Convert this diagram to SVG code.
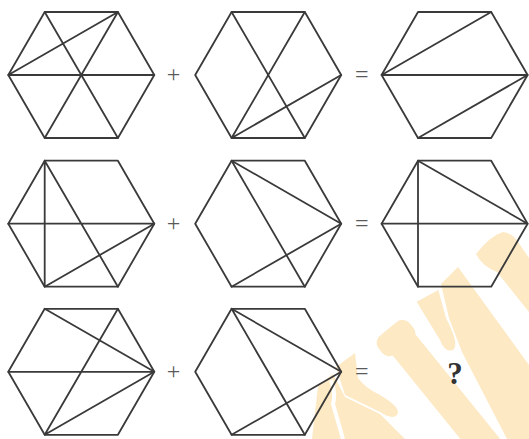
<svg xmlns="http://www.w3.org/2000/svg" width="529" height="439" viewBox="0 0 529 439">
<style>
.hx{fill:none;stroke:#3a3a3a;stroke-width:1.8;stroke-linejoin:round;stroke-linecap:round}
.sg{font-family:"Liberation Serif","DejaVu Serif",serif;font-size:24px;fill:#5a5a5a;text-anchor:middle}
.q{font-family:"Liberation Serif","DejaVu Serif",serif;font-size:31px;font-weight:bold;fill:#333;text-anchor:middle}
.wm{fill:#fde9c4;stroke:none}
</style>
<defs>
<polygon id="hex" points="-36.6,-63 36.6,-63 73,0 36.6,63 -36.6,63 -73,0"/>
</defs>
<rect width="529" height="439" fill="#fff"/>
<g id="watermark">
<g transform="translate(390,327.5) rotate(51)">
<rect class="wm" x="0" y="-18" width="24" height="40" rx="9"/>
<rect class="wm" x="10" y="-15.5" width="200" height="31"/>
</g>
<path class="wm" d="M416.7,301.7 L438.3,290 L446,318 Q460,345 453,350 Q445,353 440,340 Z"/>
<path class="wm" d="M441,284 L458,267 L529,365 L529,439 L507,439 L462,352 L449,318 Z"/>
<path class="wm" d="M476,254 Q490,236 503,232 Q512,233 518,242 L529,258 L529,312 L497,272 Q482,266 476,254 Z"/>
<path class="wm" d="M336,367 L355,353 L358,378 Q365,388 380,395 Q402,408 397,415 Q392,420 380,412 L345,395 Z"/>
<path class="wm" d="M318,386 L333,374 L345,397 L380,414 L405,439 L312,439 Z"/>
<path d="M331,380 Q336,392 333,404 L343,439" fill="none" stroke="#fff" stroke-width="4"/>
</g>
<g id="r1c1" transform="translate(81.3,75)">
<use href="#hex" class="hx"/>
<path class="hx" d="M-36.6,-63 L36.6,63 M36.6,-63 L-36.6,63 M-73,0 L73,0 M-73,0 L36.6,-63"/>
</g>
<g id="r1c2" transform="translate(268.2,75)">
<use href="#hex" class="hx"/>
<path class="hx" d="M-36.6,-63 L36.6,63 M36.6,-63 L-36.6,63 M-36.6,63 L73,0"/>
</g>
<g id="r1c3" transform="translate(454.6,75)">
<use href="#hex" class="hx"/>
<path class="hx" d="M-73,0 L36.6,-63 M-73,0 L73,0 M-36.6,63 L73,0"/>
</g>
<g id="r2c1" transform="translate(81.3,223.7)">
<use href="#hex" class="hx"/>
<path class="hx" d="M-36.6,-63 L-36.6,63 M-36.6,-63 L36.6,63 M-73,0 L73,0 M-36.6,63 L73,0"/>
</g>
<g id="r2c2" transform="translate(268.2,223.7)">
<use href="#hex" class="hx"/>
<path class="hx" d="M-36.6,-63 L73,0 M-36.6,-63 L36.6,63 M-36.6,63 L73,0"/>
</g>
<g id="r2c3" transform="translate(454.6,223.7)">
<use href="#hex" class="hx"/>
<path class="hx" d="M-36.6,-63 L-36.6,63 M-36.6,-63 L73,0 M-73,0 L73,0"/>
</g>
<g id="r3c1" transform="translate(81.3,371.8)">
<use href="#hex" class="hx"/>
<path class="hx" d="M-36.6,-63 L73,0 M36.6,-63 L-36.6,63 M-73,0 L73,0 M-36.6,63 L73,0"/>
</g>
<g id="r3c2" transform="translate(268.2,371.8)">
<use href="#hex" class="hx"/>
<path class="hx" d="M-36.6,-63 L73,0 M-36.6,-63 L36.6,63 M-36.6,63 L73,0"/>
</g>
<g id="signs">
<text class="sg" x="173.5" y="81.5">+</text>
<text class="sg" x="361.7" y="82">=</text>
<text class="sg" x="173.5" y="230.5">+</text>
<text class="sg" x="361.7" y="230.5">=</text>
<text class="sg" x="173.5" y="378.5">+</text>
<text class="sg" x="361.7" y="379">=</text>
<text class="q" x="455" y="384">?</text>
</g>
</svg>
